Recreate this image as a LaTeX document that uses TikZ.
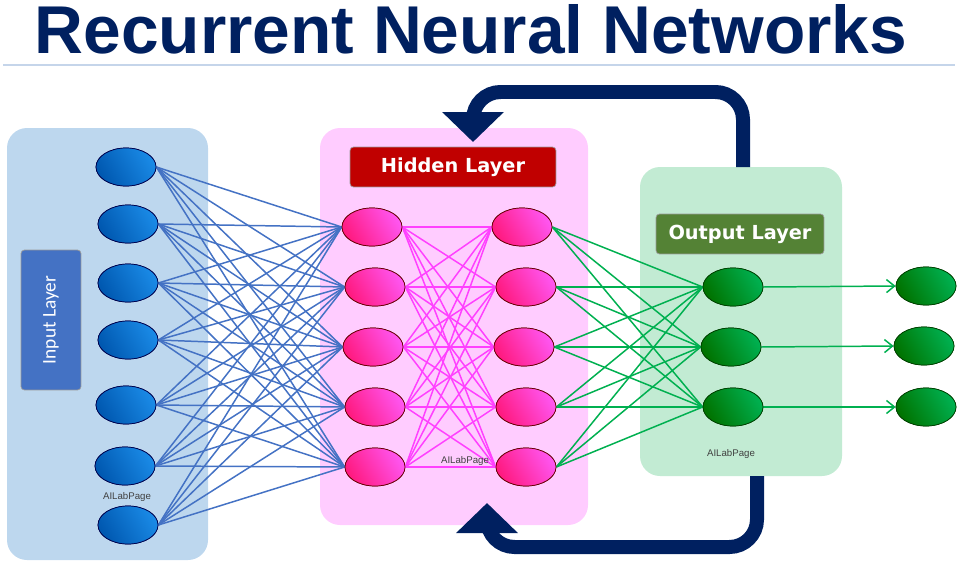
\documentclass[tikz,border=0pt]{standalone}
\usepackage{fontspec}
\setmainfont{Liberation Sans}
\newfontfamily\carlito{Carlito}
\newfontfamily\dejavu{DejaVu Sans}
\usetikzlibrary{shapes.geometric,arrows.meta}
\definecolor{titleNavy}{HTML}{002060}
\definecolor{ruleBlue}{HTML}{C5D5EA}
\definecolor{inBox}{HTML}{BDD7EE}
\definecolor{hidBox}{HTML}{FFCCFF}
\definecolor{outBox}{HTML}{C2EBD3}
\definecolor{inLabel}{HTML}{4472C4}
\definecolor{hidLabel}{HTML}{C00000}
\definecolor{outLabel}{HTML}{548235}
\definecolor{blueEdge}{HTML}{4472C4}
\definecolor{pinkEdge}{HTML}{FF40FF}
\definecolor{greenEdge}{HTML}{00B050}
\definecolor{blueDark}{HTML}{0058B0}
\definecolor{blueLight}{HTML}{1A8AE6}
\definecolor{pinkDark}{HTML}{FF1A80}
\definecolor{pinkLight}{HTML}{FF55F0}

\begin{document}
\begin{tikzpicture}
[x=0.02cm,y=-0.02cm,
layerBox/.style={rounded corners=0.4cm},
layerLabel/.style={rounded corners=2pt,text=white,draw=black!40},
vertex/.style={ellipse,minimum width=1.2cm,minimum height=0.76cm,inner sep=0pt,line width=0.4pt},
inVertex/.style={vertex,draw=blue!30!black,left color=blueDark,right color=blueLight,shading angle=120},
hidVertex/.style={vertex,draw=red!40!black,left color=pinkDark,right color=pinkLight,shading angle=120},
outVertex/.style={vertex,draw=green!25!black,left color=green!45!black,right color=greenEdge,shading angle=120},
edge/.style={line width=0.85pt},
inEdge/.style={edge,blueEdge},
hidEdge/.style={edge,pinkEdge},
outEdge/.style={edge,greenEdge},
feedback/.style={titleNavy,line width=0.28cm,rounded corners=0.55cm,-{Triangle[length=0.6cm,width=1.2cm]}},
watermark/.style={font=\fontsize{5.5}{6}\selectfont,black!75}]
\useasboundingbox (0,0) rectangle (960,561);

% title
\node[font=\fontsize{38.5}{44}\selectfont\bfseries,text=titleNavy] (title) at (471,29) {Recurrent Neural Networks};
\draw[ruleBlue,line width=1.2pt] (3,65) -- (955,65);

% layer boxes
\fill[inBox,layerBox] (7,128) rectangle (208,560);
\fill[hidBox,layerBox] (320,128) rectangle (588,525);
\fill[outBox,layerBox] (640,167) rectangle (842,476);

% labels
\node[layerLabel,fill=inLabel,rotate=90,minimum width=2.8cm,minimum height=1.2cm,font=\carlito\fontsize{11}{12}\selectfont] (inLbl) at (51,320) {Input Layer};
\node[layerLabel,fill=hidLabel,minimum width=4.12cm,minimum height=0.8cm,font=\dejavu\bfseries\fontsize{11}{12}\selectfont] (hidLbl) at (453,167) {Hidden Layer};
\node[layerLabel,fill=outLabel,minimum width=3.36cm,minimum height=0.8cm,font=\dejavu\bfseries\fontsize{11}{12}\selectfont] (outLbl) at (740,234) {Output Layer};

% feedback loops
\coordinate (fbTopA) at (743,167);
\coordinate (fbTopB) at (473,142);
\coordinate (fbBotA) at (757,476);
\coordinate (fbBotB) at (487,503);
\draw[feedback] (fbTopA) -- (743,92) -- (473,92) -- (fbTopB);
\draw[feedback] (fbBotA) -- (757,547) -- (487,547) -- (fbBotB);

% vertices
\node[inVertex] (i1) at (126,167) {};
\node[inVertex] (i2) at (128,224) {};
\node[inVertex] (i3) at (128,283) {};
\node[inVertex] (i4) at (128,340) {};
\node[inVertex] (i5) at (126,405) {};
\node[inVertex] (i6) at (125,466) {};
\node[inVertex] (i7) at (128,525) {};
\node[hidVertex] (h1) at (372,227) {};
\node[hidVertex] (h2) at (375,287) {};
\node[hidVertex] (h3) at (373,347) {};
\node[hidVertex] (h4) at (375,407) {};
\node[hidVertex] (h5) at (375,467) {};
\node[hidVertex] (g1) at (522,227) {};
\node[hidVertex] (g2) at (526,287) {};
\node[hidVertex] (g3) at (524,347) {};
\node[hidVertex] (g4) at (526,407) {};
\node[hidVertex] (g5) at (526,467) {};
\node[outVertex] (o1) at (733,287) {};
\node[outVertex] (o2) at (731,347) {};
\node[outVertex] (o3) at (733,407) {};
\node[outVertex] (y1) at (926,286) {};
\node[outVertex] (y2) at (924,346) {};
\node[outVertex] (y3) at (926,407) {};

\draw[inEdge] (i1.east) -- (h1.west);
\draw[inEdge] (i1.east) -- (h2.west);
\draw[inEdge] (i1.east) -- (h3.west);
\draw[inEdge] (i1.east) -- (h4.west);
\draw[inEdge] (i1.east) -- (h5.west);
\draw[inEdge] (i2.east) -- (h1.west);
\draw[inEdge] (i2.east) -- (h2.west);
\draw[inEdge] (i2.east) -- (h3.west);
\draw[inEdge] (i2.east) -- (h4.west);
\draw[inEdge] (i2.east) -- (h5.west);
\draw[inEdge] (i3.east) -- (h1.west);
\draw[inEdge] (i3.east) -- (h2.west);
\draw[inEdge] (i3.east) -- (h3.west);
\draw[inEdge] (i3.east) -- (h4.west);
\draw[inEdge] (i3.east) -- (h5.west);
\draw[inEdge] (i4.east) -- (h1.west);
\draw[inEdge] (i4.east) -- (h2.west);
\draw[inEdge] (i4.east) -- (h3.west);
\draw[inEdge] (i4.east) -- (h4.west);
\draw[inEdge] (i4.east) -- (h5.west);
\draw[inEdge] (i5.east) -- (h1.west);
\draw[inEdge] (i5.east) -- (h2.west);
\draw[inEdge] (i5.east) -- (h3.west);
\draw[inEdge] (i5.east) -- (h4.west);
\draw[inEdge] (i5.east) -- (h5.west);
\draw[inEdge] (i6.east) -- (h1.west);
\draw[inEdge] (i6.east) -- (h2.west);
\draw[inEdge] (i6.east) -- (h3.west);
\draw[inEdge] (i6.east) -- (h4.west);
\draw[inEdge] (i6.east) -- (h5.west);
\draw[inEdge] (i7.east) -- (h1.west);
\draw[inEdge] (i7.east) -- (h2.west);
\draw[inEdge] (i7.east) -- (h3.west);
\draw[inEdge] (i7.east) -- (h4.west);
\draw[inEdge] (i7.east) -- (h5.west);

\draw[hidEdge] (h1.east) -- (g1.west);
\draw[hidEdge] (h1.east) -- (g2.west);
\draw[hidEdge] (h1.east) -- (g3.west);
\draw[hidEdge] (h1.east) -- (g4.west);
\draw[hidEdge] (h1.east) -- (g5.west);
\draw[hidEdge] (h2.east) -- (g1.west);
\draw[hidEdge] (h2.east) -- (g2.west);
\draw[hidEdge] (h2.east) -- (g3.west);
\draw[hidEdge] (h2.east) -- (g4.west);
\draw[hidEdge] (h2.east) -- (g5.west);
\draw[hidEdge] (h3.east) -- (g1.west);
\draw[hidEdge] (h3.east) -- (g2.west);
\draw[hidEdge] (h3.east) -- (g3.west);
\draw[hidEdge] (h3.east) -- (g4.west);
\draw[hidEdge] (h3.east) -- (g5.west);
\draw[hidEdge] (h4.east) -- (g1.west);
\draw[hidEdge] (h4.east) -- (g2.west);
\draw[hidEdge] (h4.east) -- (g3.west);
\draw[hidEdge] (h4.east) -- (g4.west);
\draw[hidEdge] (h4.east) -- (g5.west);
\draw[hidEdge] (h5.east) -- (g1.west);
\draw[hidEdge] (h5.east) -- (g2.west);
\draw[hidEdge] (h5.east) -- (g3.west);
\draw[hidEdge] (h5.east) -- (g4.west);
\draw[hidEdge] (h5.east) -- (g5.west);

\draw[outEdge] (g1.east) -- (o1.west);
\draw[outEdge] (g1.east) -- (o2.west);
\draw[outEdge] (g1.east) -- (o3.west);
\draw[outEdge] (g2.east) -- (o1.west);
\draw[outEdge] (g2.east) -- (o2.west);
\draw[outEdge] (g2.east) -- (o3.west);
\draw[outEdge] (g3.east) -- (o1.west);
\draw[outEdge] (g3.east) -- (o2.west);
\draw[outEdge] (g3.east) -- (o3.west);
\draw[outEdge] (g4.east) -- (o1.west);
\draw[outEdge] (g4.east) -- (o2.west);
\draw[outEdge] (g4.east) -- (o3.west);
\draw[outEdge] (g5.east) -- (o1.west);
\draw[outEdge] (g5.east) -- (o2.west);
\draw[outEdge] (g5.east) -- (o3.west);

\draw[outEdge,-{Straight Barb[length=1.6mm,width=2.6mm]}] (o1.east) -- (y1.west);
\draw[outEdge,-{Straight Barb[length=1.6mm,width=2.6mm]}] (o2.east) -- (y2.west);
\draw[outEdge,-{Straight Barb[length=1.6mm,width=2.6mm]}] (o3.east) -- (y3.west);

% redraw vertices over the edges
\foreach \n in {i1,i2,i3,i4,i5,i6,i7}
  \node[inVertex] at (\n) {};
\foreach \n in {h1,h2,h3,h4,h5,g1,g2,g3,g4,g5}
  \node[hidVertex] at (\n) {};
\foreach \n in {o1,o2,o3,y1,y2,y3}
  \node[outVertex] at (\n) {};

\node[watermark] (wmIn) at (127,497) {AILabPage};
\node[watermark] (wmHid) at (465,461) {AILabPage};
\node[watermark] (wmOut) at (731,454) {AILabPage};
\end{tikzpicture}
\end{document}
